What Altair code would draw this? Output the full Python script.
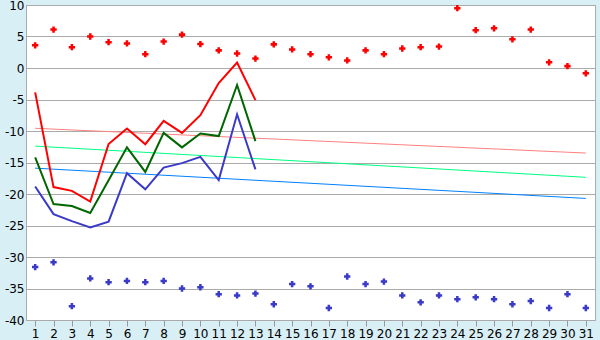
import altair as alt
import pandas as pd

days = list(range(1, 32))

red_points = [3.6, 6.1, 3.3, 5.0, 4.1, 3.9, 2.2, 4.2, 5.3, 3.8, 2.8, 2.3, 1.5, 3.75, 2.95, 2.2,
              1.7, 1.2, 2.8, 2.2, 3.1, 3.3, 3.4, 9.5, 6.0, 6.3, 4.55, 6.1, 0.9, 0.3, -0.85]
blue_points = [-31.6, -30.85, -37.8, -33.4, -34.0, -33.8, -34.0, -33.8, -35.0, -34.8, -35.9, -36.1,
               -35.8, -37.5, -34.3, -34.65, -38.1, -33.1, -34.3, -33.9, -36.1, -37.2, -36.1, -36.7,
               -36.4, -36.7, -37.5, -37.0, -38.1, -35.9, -38.1]

line_days = list(range(1, 14))
red_line = [-3.86, -18.9, -19.5, -21.2, -12.06, -9.6, -12.1, -8.4, -10.3, -7.5, -2.4, 0.85, -5.1]
green_line = [-14.2, -21.6, -21.9, -23.0, -17.8, -12.6, -16.5, -10.3, -12.6, -10.4, -10.8, -2.7, -11.6]
blue_line = [-18.8, -23.2, -24.3, -25.3, -24.4, -16.7, -19.25, -15.8, -15.1, -14.1, -17.8, -7.35, -16.1]

trend_days = [1, 31]
trend_pink = [-9.57, -13.5]
trend_green = [-12.4, -17.35]
trend_blue = [-15.9, -20.7]

x_scale = alt.Scale(domain=[0.5, 31.5], nice=False, zero=False)
y_scale = alt.Scale(domain=[-40, 10], nice=False, zero=False)

x_axis = alt.Axis(values=days, title=None, grid=False, labelFont="DejaVu Sans", labelFontSize=12,
                  labelColor="#000000", tickColor="#999999", tickSize=6, labelPadding=2,
                  domainColor="#aaaaaa", labelFlush=False, labelOverlap=False)
y_axis = alt.Axis(values=list(range(-40, 11, 5)), title=None, grid=True, gridColor="#aaaaaa",
                  labelFont="DejaVu Sans", labelFontSize=12, labelColor="#000000", ticks=False,
                  labelPadding=2, domainColor="#aaaaaa", labelFlush=False,
                  labelExpr="toString(datum.value)")

def line_layer(xs, ys, color, width):
    df = pd.DataFrame({"day": xs, "v": ys})
    return alt.Chart(df).mark_line(color=color, strokeWidth=width, clip=True).encode(
        x=alt.X("day:Q", scale=x_scale, axis=x_axis),
        y=alt.Y("v:Q", scale=y_scale, axis=y_axis),
    )

def point_layer(xs, ys, color):
    df = pd.DataFrame({"day": xs, "v": ys})
    return alt.Chart(df).mark_point(shape="cross", filled=True, size=40, color=color, opacity=1).encode(
        x=alt.X("day:Q", scale=x_scale, axis=x_axis),
        y=alt.Y("v:Q", scale=y_scale, axis=y_axis),
    )

chart = alt.layer(
    line_layer(trend_days, trend_pink, "#ff8080", 1),
    line_layer(trend_days, trend_green, "#00ff80", 1),
    line_layer(trend_days, trend_blue, "#0080ff", 1),
    line_layer(line_days, red_line, "#ff0000", 2),
    line_layer(line_days, green_line, "#006600", 2),
    line_layer(line_days, blue_line, "#3a3ac8", 2),
    point_layer(days, red_points, "#ff0000"),
    point_layer(days, blue_points, "#3a3ac8"),
).properties(
    width=569, height=315,
    autosize=alt.AutoSizeParams(type="none"),
    padding={"left": 26, "top": 5, "right": 5, "bottom": 20},
    background="#d9eff6",
).configure_view(
    fill="#ffffff", stroke="#aaaaaa", strokeWidth=1,
)

chart.save("out.html", embed_options={"renderer": "svg", "actions": False})
